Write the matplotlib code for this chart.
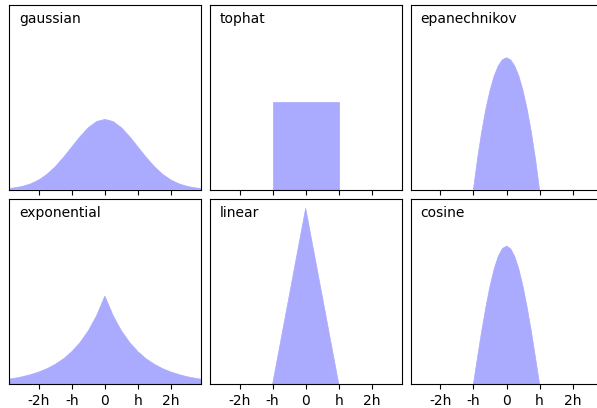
import numpy as np
import matplotlib
matplotlib.use("Agg")
import matplotlib.pyplot as plt

kernels = ["gaussian", "tophat", "epanechnikov", "exponential", "linear", "cosine"]

# wide kernels sampled on -3..3
x_wide = [-3, -2.75, -2.5, -2.25, -2, -1.75, -1.5, -1.25, -1, -0.75, -0.5, -0.25, 0,
          0.25, 0.5, 0.75, 1, 1.25, 1.5, 1.75, 2, 2.25, 2.5, 2.75, 3]
gaussian_y = [0.0044, 0.0091, 0.0175, 0.0317, 0.054, 0.0863, 0.130, 0.183, 0.242, 0.301, 0.352, 0.387, 0.399,
              0.387, 0.352, 0.301, 0.242, 0.183, 0.130, 0.0863, 0.054, 0.0317, 0.0175, 0.0091, 0.0044]
exponential_y = [0.025, 0.032, 0.041, 0.053, 0.068, 0.087, 0.112, 0.143, 0.184, 0.236, 0.303, 0.389, 0.5,
                 0.389, 0.303, 0.236, 0.184, 0.143, 0.112, 0.087, 0.068, 0.053, 0.041, 0.032, 0.025]

# compact kernels sampled on -1..1
x_narrow = [-1, -0.875, -0.75, -0.625, -0.5, -0.375, -0.25, -0.125, 0,
            0.125, 0.25, 0.375, 0.5, 0.625, 0.75, 0.875, 1]
epanechnikov_y = [0, 0.176, 0.328, 0.457, 0.5625, 0.645, 0.703, 0.738, 0.75,
                  0.738, 0.703, 0.645, 0.5625, 0.457, 0.328, 0.176, 0]
linear_y = [0, 0.125, 0.25, 0.375, 0.5, 0.625, 0.75, 0.875, 1.0,
            0.875, 0.75, 0.625, 0.5, 0.375, 0.25, 0.125, 0]
cosine_y = [0, 0.153, 0.301, 0.436, 0.555, 0.653, 0.726, 0.770, 0.785,
            0.770, 0.726, 0.653, 0.555, 0.436, 0.301, 0.153, 0]
tophat_x = [-1, -1, 1, 1]
tophat_y = [0, 0.5, 0.5, 0]

curves = {
    "gaussian": (x_wide, gaussian_y),
    "tophat": (tophat_x, tophat_y),
    "epanechnikov": (x_narrow, epanechnikov_y),
    "exponential": (x_wide, exponential_y),
    "linear": (x_narrow, linear_y),
    "cosine": (x_narrow, cosine_y),
}


def format_func(x, loc):
    if x == 0:
        return "0"
    elif x == 1:
        return "h"
    elif x == -1:
        return "-h"
    else:
        return "%ih" % x


fig, ax = plt.subplots(2, 3, sharex=True, sharey=True, figsize=(5.97, 4.08), dpi=100)
fig.subplots_adjust(left=9 / 597, right=602.4 / 597, top=1 - 5 / 408, bottom=1 - 384 / 408,
                    hspace=0.054, wspace=0.047)

for i, kernel in enumerate(kernels):
    axi = ax.ravel()[i]
    xs, ys = curves[kernel]
    xs = [xs[0]] + list(xs) + [xs[-1]]
    ys = [0] + list(ys) + [0]
    axi.fill(xs, ys, fc="#AAAAFF", ec="#AAAAFF", lw=0.5)
    axi.text(-2.6, 0.95, kernel)
    axi.xaxis.set_major_formatter(plt.FuncFormatter(format_func))
    axi.xaxis.set_major_locator(plt.MultipleLocator(1))
    axi.yaxis.set_major_locator(plt.NullLocator())
    axi.set_ylim(0, 1.05)
    axi.set_xlim(-2.9, 2.9)

fig.savefig("out.png", dpi=100)
